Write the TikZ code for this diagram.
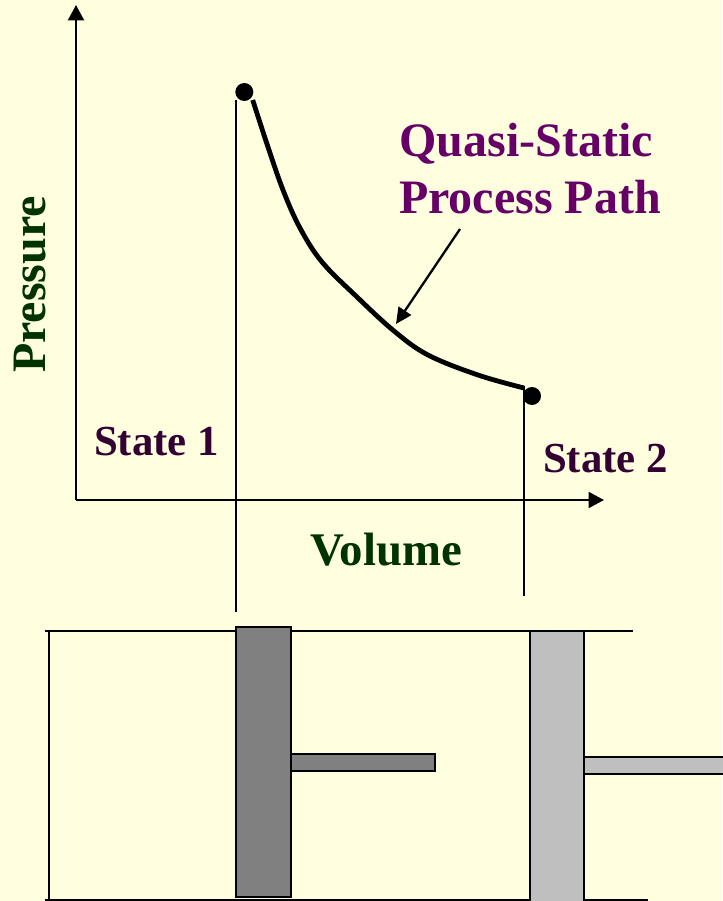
\documentclass[tikz,border=0pt]{standalone}
\usepackage{fontspec}
\setmainfont{Liberation Serif}
\usetikzlibrary{arrows.meta}
\definecolor{bgc}{HTML}{FFFFE0}
\definecolor{axisgreen}{HTML}{003300}
\definecolor{pathpurple}{HTML}{660066}
\definecolor{statepurple}{HTML}{330033}
\definecolor{darkpiston}{HTML}{808080}
\definecolor{lightpiston}{HTML}{BFBFBF}
\tikzset{
  lbl/.style={inner sep=0pt,anchor=base,font=\bfseries\fontsize{#1}{#1}\selectfont},
  axisline/.style={line width=2.3pt,-{Triangle[length=15.5pt,width=16pt]}},
  guide/.style={line width=1.7pt},
  wall/.style={line width=1.7pt},
  dot/.style={circle,fill=black,inner sep=0pt,minimum size=18pt},
  pistondark/.style={draw=black,line width=2pt,fill=darkpiston},
  pistonlight/.style={draw=black,line width=1.7pt,fill=lightpiston},
}
\begin{document}
\begin{tikzpicture}[x=1pt,y=-1pt]
\useasboundingbox (0,0) rectangle (722,901);
\fill[bgc] (0,0) rectangle (722,901);
% axes
\coordinate (origin) at (76,500);
\coordinate (ytip) at (76,5);
\coordinate (xtip) at (604,500);
\draw[axisline] (origin) -- (ytip);
\draw[axisline] (origin) -- (xtip);
% states
\node[dot] (s1) at (244.3,92) {};
\node[dot] (s2) at (532,396) {};
% guides
\coordinate (g1a) at (236,100);
\coordinate (g1b) at (236,612);
\coordinate (g2a) at (524.3,386);
\coordinate (g2b) at (524.3,596);
\draw[guide] (g1a) -- (g1b);
\draw[guide] (g2a) -- (g2b);
% process path
\draw[line width=4.8pt] plot[smooth,tension=0.6] coordinates {(252.7,100) (267,144) (283,190) (300,228) (322,262) (357,297) (394,331) (428,355) (478,375) (524,388)};
% labels
\node[lbl=48,text=pathpurple] (q1) at (526,157) {Quasi-Static};
\node[lbl=48,text=pathpurple] (q2) at (530,214) {Process Path};
\node[lbl=42.8,text=statepurple] (st1) at (156.5,455) {State 1};
\node[lbl=42.8,text=statepurple] (st2) at (605.5,472) {State 2};
\node[lbl=46.8,text=axisgreen] (vol) at (386,565) {Volume};
\node[lbl=48,text=axisgreen,rotate=90] (pre) at (45,284.5) {Pressure};
% annotation arrow
\coordinate (atail) at (460,229);
\coordinate (ahead) at (396,324);
\draw[line width=2.3pt,-{Triangle[length=16pt,width=15pt]}] (atail) -- (ahead);
% cylinder
\coordinate (tl) at (45,631); \coordinate (tr) at (633,631);
\coordinate (bl) at (45,900); \coordinate (br) at (648,900);
\coordinate (wt) at (49,631); \coordinate (wb) at (49,900);
\draw[wall] (tl) -- (tr);
\draw[wall] (bl) -- (br);
\draw[wall] (wt) -- (wb);
% pistons
\draw[pistondark] (290.5,753.5) rectangle (434.5,771);
\draw[pistondark] (236,627) rectangle (290.5,897);
\draw[pistonlight] (584,757) rectangle (730,774);
\draw[pistonlight] (530,631) rectangle (584,905);
\end{tikzpicture}
\end{document}
